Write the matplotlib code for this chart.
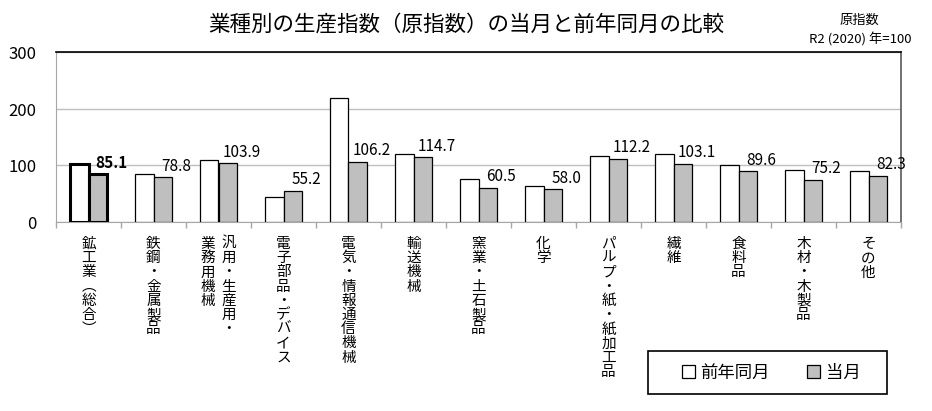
import matplotlib
matplotlib.use("Agg")
import matplotlib.pyplot as plt
from matplotlib.patches import Patch, Rectangle
import numpy as np

plt.rcParams['font.family'] = ['Noto Sans CJK JP', 'DejaVu Sans']

# data
categories = ['鉱工業︵総合︶', '鉄鋼・金属製品', '汎用・生産用・業務用機械', '電子部品・デバイス',
              '電気・情報通信機械', '輸送機械', '窯業・土石製品', '化学', 'パルプ・紙・紙加工品',
              '繊維', '食料品', '木材・木製品', 'その他']
prev_year = [103.0, 85.3, 110.0, 44.0, 219.5, 120.6, 76.5, 63.0, 116.0, 121.0, 100.0, 92.4, 90.0]
current = [85.1, 78.8, 103.9, 55.2, 106.2, 114.7, 60.5, 58.0, 112.2, 103.1, 89.6, 75.2, 82.3]
yticks = [0, 100, 200, 300]

fig = plt.figure(figsize=(9.32, 4.11), dpi=100)
ax = fig.add_axes([56 / 932, 1 - 222 / 411, 845 / 932, 169.5 / 411])

x = np.arange(len(categories))
w = 0.29
off = 0.145
for i in x:
    lw = 2.2 if i == 0 else 0.9
    ax.bar(i - off, prev_year[i], w, color='white', edgecolor='black', linewidth=lw, zorder=3)
    ax.bar(i + off, current[i], w, color='#BFBFBF', edgecolor='black', linewidth=lw, zorder=3)
    ax.annotate(f'{current[i]:.1f}', (i + off, current[i]), xytext=(9.6, 8),
                textcoords='offset points', ha='center', va='center', fontsize=11,
                fontweight='bold' if i == 0 else 'normal', zorder=4)

ax.set_xlim(-0.5, len(categories) - 0.5)
ax.set_ylim(0, 300)
ax.set_yticks(yticks)
ax.set_yticklabels([str(v) for v in yticks], fontsize=12)
ax.tick_params(axis='y', length=0, pad=14)
ax.yaxis.grid(True, color='#BFBFBF', linewidth=1, zorder=0)

ax.set_xticks(np.arange(-0.5, len(categories), 1.0))
ax.set_xticklabels([])
ax.tick_params(axis='x', length=4, color='#A6A6A6', width=1, direction='out')

ax.spines['top'].set_color('black')
ax.spines['top'].set_linewidth(1.2)
ax.spines['left'].set_color('#A6A6A6')
ax.spines['bottom'].set_color('#A6A6A6')
ax.spines['right'].set_color('#595959')
ax.spines['right'].set_linewidth(1.2)

# vertical category labels
tr = ax.get_xaxis_transform()
for i, name in enumerate(categories):
    if name == '汎用・生産用・業務用機械':
        cols = [('汎用・生産用・', 0.16), ('業務用機械', -0.16)]
    else:
        cols = [(name, 0.0)]
    for txt, dx in cols:
        ax.text(i + dx, -0.088, '\n'.join(txt), transform=tr, ha='center', va='top',
                fontsize=10.5, linespacing=1.02)

fig.text(0.5, 1 - 25 / 411, '業種別の生産指数（原指数）の当月と前年同月の比較',
         ha='center', va='center', fontsize=15.5)
fig.text(859 / 932, 1 - 20 / 411, '原指数', ha='center', va='center', fontsize=9.5)
fig.text(860 / 932, 1 - 39 / 411, 'R2 (2020) 年=100', ha='center', va='center', fontsize=9.5)

# legend with its own frame
fig.patches.append(Rectangle((648 / 932, 1 - 394 / 411), 239 / 932, 43 / 411,
                             transform=fig.transFigure, facecolor='white',
                             edgecolor='black', linewidth=1.2, zorder=1))
handles = [Patch(facecolor='white', edgecolor='black', linewidth=0.9, label='前年同月'),
           Patch(facecolor='#BFBFBF', edgecolor='black', linewidth=0.9, label='当月')]
leg = fig.legend(handles=handles, loc='center', bbox_to_anchor=(771 / 932, 1 - 372.5 / 411),
                 ncol=2, fontsize=12.5, frameon=False,
                 handlelength=0.75, handleheight=0.75, handletextpad=0.3, columnspacing=2.2,
                 borderpad=0.5, borderaxespad=0)
leg.set_zorder(2)

fig.savefig('out.png', dpi=100, facecolor='white')
